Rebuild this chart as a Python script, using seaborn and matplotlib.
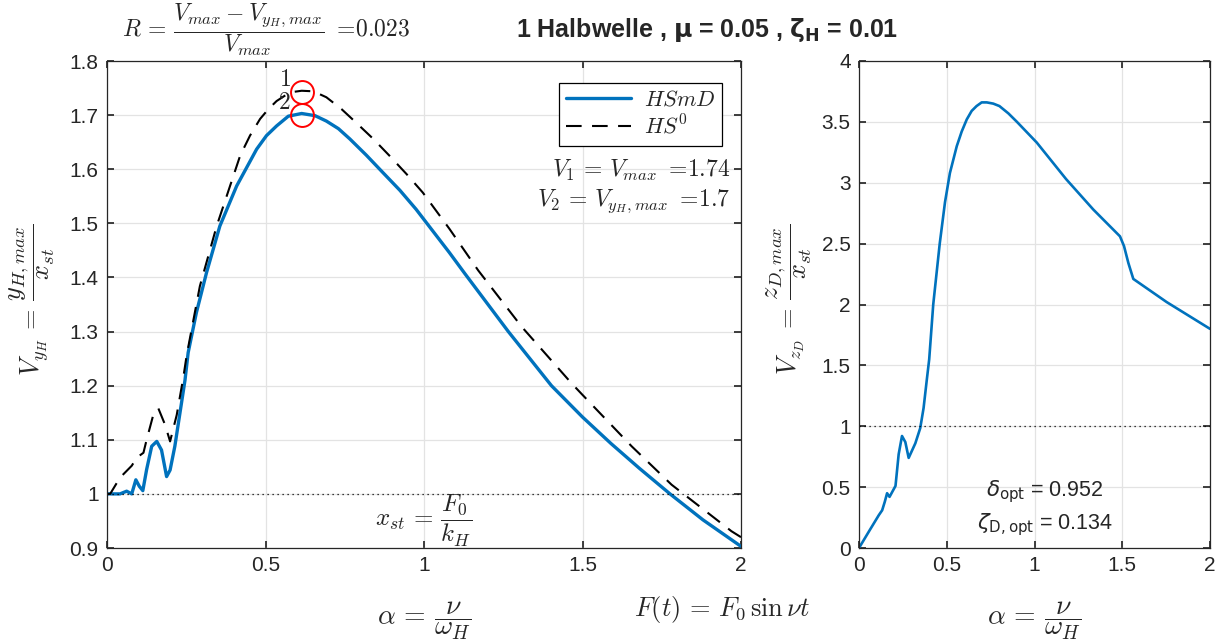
import numpy as np
import pandas as pd
import seaborn as sns
import matplotlib
matplotlib.use("Agg")
import matplotlib.pyplot as plt

# HSmD (main system with damper) - left plot, blue
alpha_hsmd = [0, 0.02, 0.041, 0.062, 0.078, 0.091, 0.102, 0.113, 0.125, 0.141, 0.157, 0.172,
              0.188, 0.199, 0.214, 0.23, 0.246, 0.256, 0.282, 0.314, 0.356, 0.409, 0.472, 0.503,
              0.535, 0.572, 0.614, 0.656, 0.692, 0.73, 0.766, 0.818, 0.87, 0.924, 0.975, 1.08,
              1.129, 1.266, 1.402, 1.5, 1.59, 1.68, 1.776, 1.88, 2.0]
v_hsmd = [1.0, 1.0, 1.0, 1.005, 1.0, 1.026, 1.014, 1.006, 1.045, 1.088, 1.097, 1.081,
          1.032, 1.044, 1.088, 1.149, 1.21, 1.261, 1.335, 1.409, 1.495, 1.569, 1.637, 1.662,
          1.680, 1.698, 1.703, 1.699, 1.689, 1.675, 1.656, 1.626, 1.594, 1.561, 1.526, 1.446,
          1.407, 1.30, 1.20, 1.142, 1.093, 1.047, 1.0, 0.952, 0.903]

# HS0 (main system without damper) - left plot, dashed
alpha_hs0 = [0, 0.01, 0.041, 0.078, 0.094, 0.115, 0.125, 0.146, 0.162, 0.183, 0.199, 0.22,
             0.241, 0.251, 0.293, 0.346, 0.42, 0.451, 0.483, 0.509, 0.535, 0.577, 0.614, 0.651,
             0.692, 0.74, 0.786, 0.84, 0.891, 0.945, 0.996, 1.08, 1.171, 1.308, 1.466, 1.5,
             1.655, 1.781, 1.97, 2.0]
v_hs0 = [1.0, 1.0, 1.03, 1.052, 1.067, 1.076, 1.1, 1.146, 1.158, 1.128, 1.097, 1.146,
         1.216, 1.255, 1.384, 1.495, 1.625, 1.662, 1.693, 1.711, 1.726, 1.742, 1.745, 1.744,
         1.733, 1.711, 1.686, 1.656, 1.625, 1.591, 1.557, 1.49, 1.413, 1.309, 1.204, 1.183,
         1.088, 1.017, 0.931, 0.920]

# damper displacement - right plot
alpha_zd = [0, 0.057, 0.113, 0.132, 0.147, 0.16, 0.174, 0.208, 0.226, 0.245, 0.264, 0.283,
            0.321, 0.349, 0.368, 0.387, 0.40, 0.423, 0.46, 0.49, 0.518, 0.557, 0.585, 0.614,
            0.642, 0.67, 0.699, 0.728, 0.765, 0.80, 0.851, 0.90, 1.013, 1.18, 1.335, 1.487,
            1.51, 1.535, 1.563, 1.753, 2.0]
v_zd = [0, 0.137, 0.27, 0.31, 0.38, 0.45, 0.42, 0.51, 0.77, 0.92, 0.87, 0.74,
        0.86, 0.985, 1.15, 1.39, 1.55, 2.0, 2.5, 2.84, 3.08, 3.30, 3.42, 3.52,
        3.59, 3.63, 3.66, 3.66, 3.65, 3.63, 3.57, 3.50, 3.33, 3.03, 2.78, 2.56,
        2.48, 2.34, 2.21, 2.02, 1.80]

# maxima markers
peak_alpha = [0.614, 0.614]
peak_v = [1.742, 1.70]

blue = '#0072BD'

sns.set_theme(style='whitegrid', rc={
    'grid.color': '#e3e3e3', 'grid.linewidth': 0.9,
    'axes.edgecolor': '#262626', 'axes.linewidth': 0.9,
    'xtick.direction': 'in', 'ytick.direction': 'in',
    'xtick.top': True, 'ytick.right': True,
    'xtick.bottom': True, 'ytick.left': True,
    'xtick.major.size': 5, 'ytick.major.size': 5,
    'xtick.color': '#262626', 'ytick.color': '#262626',
    'mathtext.fontset': 'cm',
})
plt.rcParams['font.family'] = ['Liberation Sans', 'DejaVu Sans']

fig = plt.figure(figsize=(12.23, 6.41), dpi=100)
ax1 = fig.add_axes([107/1223, 1-548/641, 634/1223, 487/641])
ax2 = fig.add_axes([859/1223, 1-548/641, 351/1223, 487/641])

df_l = pd.DataFrame({'alpha': alpha_hsmd, 'V': v_hsmd})
df_0 = pd.DataFrame({'alpha': alpha_hs0, 'V': v_hs0})
df_r = pd.DataFrame({'alpha': alpha_zd, 'V': v_zd})

sns.lineplot(data=df_l, x='alpha', y='V', ax=ax1, color=blue, linewidth=2.4,
             estimator=None, label='$HSmD$')
sns.lineplot(data=df_0, x='alpha', y='V', ax=ax1, color='black', linewidth=1.5,
             linestyle=(0, (7.5, 5)), estimator=None, label='$HS^0$')
ax1.axhline(1.0, color='black', linestyle=(0, (1, 3)), linewidth=0.9)
ax1.plot(peak_alpha, peak_v, linestyle='none', marker='o', markersize=16.5,
         markerfacecolor='none', markeredgecolor='red', markeredgewidth=1.4)
ax1.text(0.58, 1.765, '$1$', fontsize=17, ha='right', va='center')
ax1.text(0.58, 1.723, '$2$', fontsize=17, ha='right', va='center')

ax1.set_xlim(0, 2)
ax1.set_ylim(0.9, 1.8)
ax1.set_xticks([0, 0.5, 1, 1.5, 2])
ax1.set_xticklabels(['0', '0.5', '1', '1.5', '2'])
ax1.set_yticks(np.arange(0.9, 1.81, 0.1))
ax1.set_yticklabels(['0.9', '1', '1.1', '1.2', '1.3', '1.4', '1.5', '1.6', '1.7', '1.8'])
ax1.tick_params(labelsize=15, pad=6)
ax1.set_xlabel('')
ax1.set_ylabel('')

leg = ax1.legend(loc='upper right', bbox_to_anchor=(0.97, 0.955), borderaxespad=0,
                 fontsize=16, frameon=True, fancybox=False, edgecolor='black', framealpha=1,
                 handlelength=2.9, borderpad=0.3, labelspacing=0.2, handletextpad=0.6)
leg.get_frame().set_linewidth(0.9)

# annotations (LaTeX-like)
ax1.text(0.983, 0.776, r'$V_1\,=\,V_{max}\ =\!1.74$', transform=ax1.transAxes,
         fontsize=17, ha='right', va='center')
ax1.text(0.983, 0.713, r'$V_2\,=\,V_{y_H,max}\ =\!1.7$', transform=ax1.transAxes,
         fontsize=17, ha='right', va='center')
ax1.text(1.0, 0.055, r'$x_{st}\,=\,\dfrac{F_0}{k_H}$', transform=ax1.get_xaxis_transform(),
         fontsize=18, ha='center', va='center')
ax1.text(0.5, -0.15, r'$\alpha\,=\,\dfrac{\nu}{\omega_H}$', transform=ax1.transAxes,
         fontsize=20, ha='center', va='center')
ax1.text(0.97, -0.127, r'$F(t)\,=\,F_0\,\sin\nu t$', transform=ax1.transAxes,
         fontsize=19, ha='center', va='center')
ax1.text(-0.118, 0.51, r'$V_{y_H}\,=\,\dfrac{y_{H,max}}{x_{st}}$', transform=ax1.transAxes,
         fontsize=19, ha='center', va='center', rotation=90)

# right plot
sns.lineplot(data=df_r, x='alpha', y='V', ax=ax2, color=blue, linewidth=1.9,
             estimator=None, legend=False)
ax2.axhline(1.0, color='black', linestyle=(0, (1, 3)), linewidth=0.9)
ax2.set_xlim(0, 2)
ax2.set_ylim(0, 4)
ax2.set_xticks([0, 0.5, 1, 1.5, 2])
ax2.set_xticklabels(['0', '0.5', '1', '1.5', '2'])
ax2.set_yticks(np.arange(0, 4.01, 0.5))
ax2.set_yticklabels(['0', '0.5', '1', '1.5', '2', '2.5', '3', '3.5', '4'])
ax2.tick_params(labelsize=15, pad=6)
ax2.set_xlabel('')
ax2.set_ylabel('')
ax2.text(0.53, 0.115, r'$\delta_{\mathsf{opt}}$ = 0.952', transform=ax2.transAxes,
         fontsize=15.5, ha='center', va='center', math_fontfamily='dejavusans')
ax2.text(0.53, 0.049, r'$\zeta_{\mathsf{D,opt}}$ = 0.134', transform=ax2.transAxes,
         fontsize=15.5, ha='center', va='center', math_fontfamily='dejavusans')
ax2.text(0.5, -0.15, r'$\alpha\,=\,\dfrac{\nu}{\omega_H}$', transform=ax2.transAxes,
         fontsize=20, ha='center', va='center')
ax2.text(-0.2, 0.51, r'$V_{z_D}\,=\,\dfrac{z_{D,max}}{x_{st}}$', transform=ax2.transAxes,
         fontsize=19, ha='center', va='center', rotation=90)

fig.text(122/1223, 1-30/641, r'$R\,=\,\dfrac{V_{max}-V_{y_H,max}}{V_{max}}\ =\!0.023$',
         fontsize=17, ha='left', va='center')
fig.text(707/1223, 1-30/641, r'1 Halbwelle , $\mathbf{\mu}$ = 0.05 , $\mathbf{\zeta_H}$ = 0.01',
         fontsize=18, fontweight='bold', ha='center', va='center',
         math_fontfamily='dejavusans')

fig.savefig('out.png', dpi=100)
